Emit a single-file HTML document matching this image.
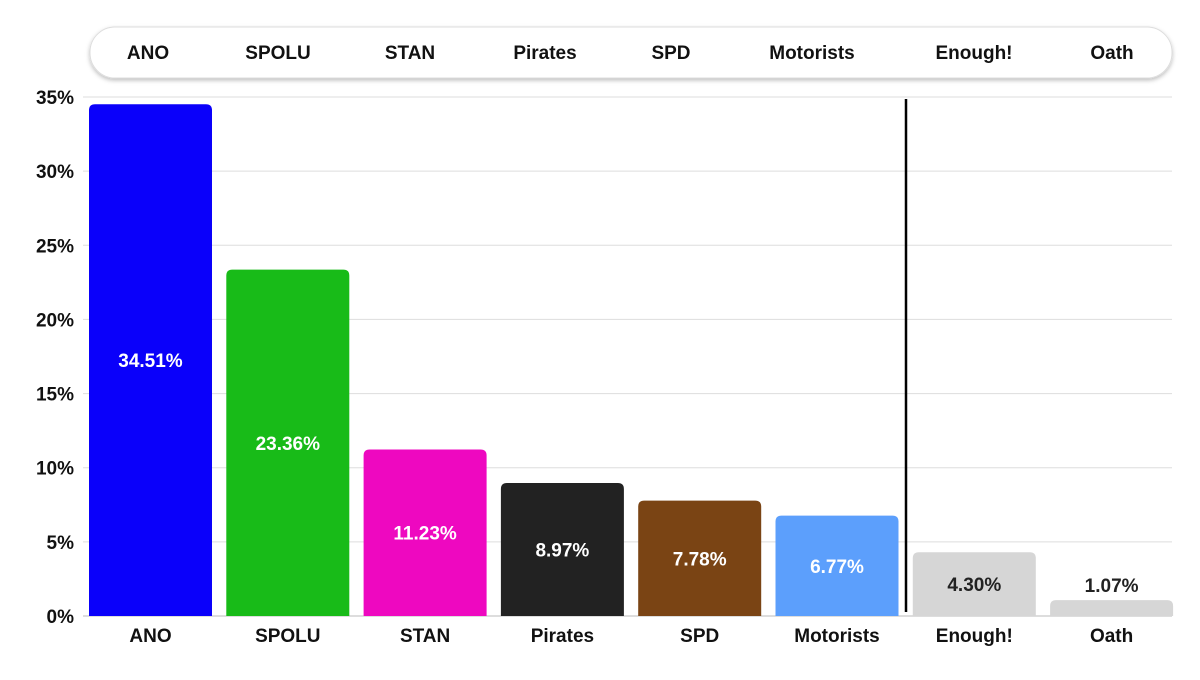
<!DOCTYPE html>
<html><head><meta charset="utf-8"><style>
body{margin:0;background:#fff;font-family:"Liberation Sans",Arial,sans-serif;}
svg text{font-family:"Liberation Sans",Arial,sans-serif;font-weight:bold;}
</style></head><body>
<svg id="chart" width="1200" height="675">
<defs><filter id="sh" x="-5%" y="-30%" width="110%" height="170%"><feDropShadow dx="0" dy="2" stdDeviation="2" flood-color="#000" flood-opacity="0.25"/></filter></defs>
<rect x="90" y="27" width="1082" height="51" rx="25" fill="#fff" stroke="#ddd" filter="url(#sh)"/>
<g id="legend"></g>
<g id="grid"></g>
<g id="bars"></g>
<line x1="906" y1="99" x2="906" y2="612" stroke="#000" stroke-width="2.5"/>
</svg>
<script>
const categories=["ANO","SPOLU","STAN","Pirates","SPD","Motorists","Enough!","Oath"];
const values=[34.51,23.36,11.23,8.97,7.78,6.77,4.30,1.07];
const colors=["#0a00fa","#18bb18","#ee08c0","#222222","#7a4414","#5c9ffc","#d6d6d6","#d6d6d6"];
const yTicks=[0,5,10,15,20,25,30,35];
const NS="http://www.w3.org/2000/svg";
const y0=616,yTop=97,yMax=35;
const y=v=>y0-(v/yMax)*(y0-yTop);
const bandStart=82,band=137.3,barW=123;
const x=i=>bandStart+i*band+7;
const legendLayout=[148,278,410,545,671,812,974,1112];
function mk(tag,attrs,parent){const e=document.createElementNS(NS,tag);for(const k in attrs)e.setAttribute(k,attrs[k]);parent.appendChild(e);return e;}
const grid=document.getElementById('grid'),bars=document.getElementById('bars'),leg=document.getElementById('legend');
yTicks.forEach(t=>{
 const l=mk('line',{x1:83,x2:1172,y1:y(t),y2:y(t),stroke:t===0?'#bbb':'#ddd','stroke-width':1},grid);
 
 
 const tx=mk('text',{x:74,y:y(t)+7,'text-anchor':'end','font-size':19,fill:'#111'},grid);
 tx.textContent=t+'%';
 
 
});
categories.forEach((c,i)=>{
 const v=values[i],top=y(v),h=y0-top,bx=x(i);
 const p=mk('path',{d:`M${bx},${y0}V${top+6}Q${bx},${top} ${bx+6},${top}H${bx+barW-6}Q${bx+barW},${top} ${bx+barW},${top+6}V${y0}Z`,fill:colors[i]},bars);
 
 
 const light=i>=6;
 let ly=top+h/2+7;
 if(h<30) ly=top-8;
 const lb=mk('text',{x:bx+barW/2,y:ly,'text-anchor':'middle','font-size':19,fill:light?'#222':'#fff'},bars);
 lb.textContent=v.toFixed(2)+'%';
 
 
 const xl=mk('text',{x:bx+barW/2,y:642,'text-anchor':'middle','font-size':19,fill:'#111'},bars);
 xl.textContent=c;
 
 
 const lg=mk('text',{x:legendLayout[i],y:59,'text-anchor':'middle','font-size':19,fill:'#111'},leg);
 lg.textContent=c;
 
 
});
</script>
</body></html>
